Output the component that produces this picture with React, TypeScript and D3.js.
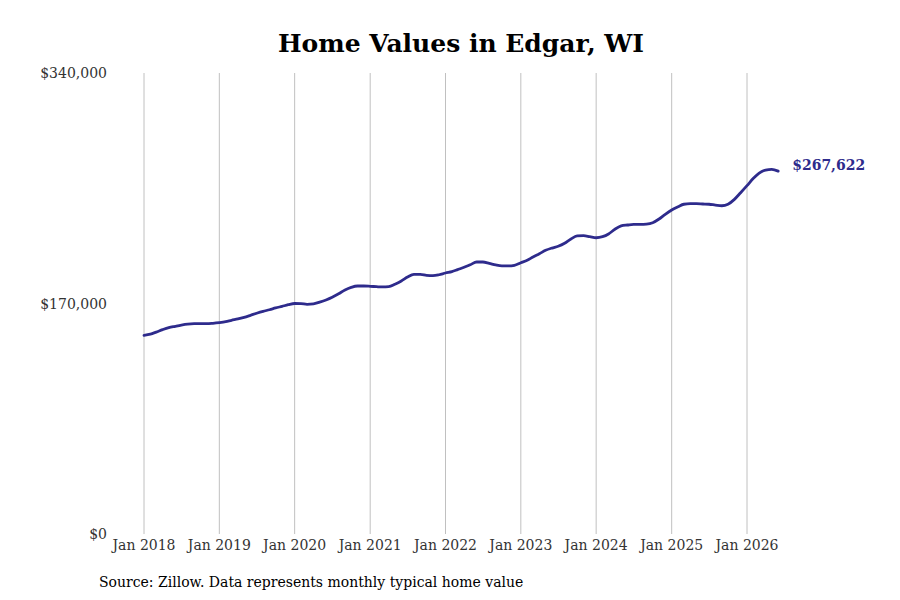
import React, { useEffect, useRef } from "react";
import * as d3 from "d3";

// monthly typical home value, Jan 2018 onward
const startYear = 2018;
const values = [
  146500, 147400, 148900, 150700, 152200, 153200, 154100, 154800, 155100, 155100, 155100, 155400,
  155900, 156600, 157600, 158600, 159800, 161300, 162800, 164200, 165400, 166700, 167900, 169100,
  170000, 169900, 169400, 169700, 171000, 172600, 174600, 177200, 180000, 181900, 182900, 182900,
  182700, 182400, 182200, 182400, 184200, 186600, 189500, 191500, 191500, 190800, 190500, 191200,
  192500, 193500, 195000, 196700, 198600, 200600, 200600, 199600, 198400, 197700, 197700, 198200,
  200100, 201900, 204300, 206700, 209200, 210900, 212200, 214400, 217600, 219800, 220000, 219300,
  218500, 219300, 221300, 224800, 227200, 227900, 228400, 228400, 228600, 229600, 232300, 235800,
  239000, 241400, 243200, 243600, 243600, 243400, 243200, 242600, 242100, 243200, 246800, 251700,
  256900, 262300, 266200, 268400, 268900, 267622,
];
const tickYears = [2018, 2019, 2020, 2021, 2022, 2023, 2024, 2025, 2026];
const yTicks = [0, 170000, 340000];

const App: React.FC = () => {
  const svgRef = useRef<SVGSVGElement | null>(null);

  useEffect(() => {
    if (!svgRef.current) return;
    const width = 900;
    const height = 600;
    const margin = { top: 73, right: 153, bottom: 66, left: 144 };
    const font = "'DejaVu Serif', serif";

    d3.select(svgRef.current).selectAll("*").remove();
    const svg = d3
      .select(svgRef.current)
      .attr("width", width)
      .attr("height", height);

    const data = values.map((v, i) => ({
      date: new Date(Date.UTC(startYear, i, 1)),
      value: v,
    }));

    const x = d3
      .scaleUtc()
      .domain([new Date(Date.UTC(2018, 0, 1)), new Date(Date.UTC(2026, 0, 1))])
      .range([margin.left, 747]);
    const y = d3
      .scaleLinear()
      .domain([0, 340000])
      .range([height - margin.bottom, margin.top]);

    // vertical gridlines
    svg
      .selectAll(".grid")
      .data(tickYears)
      .enter()
      .append("line")
      .attr("x1", (d) => x(new Date(Date.UTC(d, 0, 1))))
      .attr("x2", (d) => x(new Date(Date.UTC(d, 0, 1))))
      .attr("y1", y(340000))
      .attr("y2", y(0))
      .attr("stroke", "#c0c0c0")
      .attr("stroke-width", 1);

    // x tick labels
    svg
      .selectAll(".xlab")
      .data(tickYears)
      .enter()
      .append("text")
      .attr("x", (d) => x(new Date(Date.UTC(d, 0, 1))))
      .attr("y", y(0) + 16)
      .attr("text-anchor", "middle")
      .attr("fill", "#333")
      .style("font-family", font)
      .style("font-size", "14px")
      .text((d) => `Jan ${d}`);

    // y tick labels
    svg
      .selectAll(".ylab")
      .data(yTicks)
      .enter()
      .append("text")
      .attr("x", 107)
      .attr("y", (d) => y(d) + 5)
      .attr("text-anchor", "end")
      .attr("fill", "#333")
      .style("font-family", font)
      .style("font-size", "14px")
      .text((d) => d3.format("$,")(d));

    const line = d3
      .line<{ date: Date; value: number }>()
      .x((d) => x(d.date))
      .y((d) => y(d.value))
      .curve(d3.curveMonotoneX);

    svg
      .append("path")
      .datum(data)
      .attr("d", line)
      .attr("fill", "none")
      .attr("stroke", "#2e2b8c")
      .attr("stroke-width", 2.8)
      .attr("stroke-linecap", "round");

    const last = data[data.length - 1];
    svg
      .append("text")
      .attr("x", x(last.date) + 14)
      .attr("y", y(last.value) - 1)
      .attr("fill", "#2e2b8c")
      .style("font-family", font)
      .style("font-size", "14px")
      .style("font-weight", "bold")
      .text(d3.format("$,")(last.value));

    svg
      .append("text")
      .attr("x", 461)
      .attr("y", 52)
      .attr("text-anchor", "middle")
      .attr("fill", "#000")
      .style("font-family", font)
      .style("font-size", "25px")
      .style("font-weight", "bold")
      .text("Home Values in Edgar, WI");

    svg
      .append("text")
      .attr("x", 99)
      .attr("y", 587)
      .attr("fill", "#000")
      .style("font-family", font)
      .style("font-size", "14px")
      .text("Source: Zillow. Data represents monthly typical home value");
  }, []);

  return (
    <div style={{ position: "absolute", left: 0, top: 0, background: "#fff" }}>
      <svg ref={svgRef}></svg>
    </div>
  );
};

export default App;
